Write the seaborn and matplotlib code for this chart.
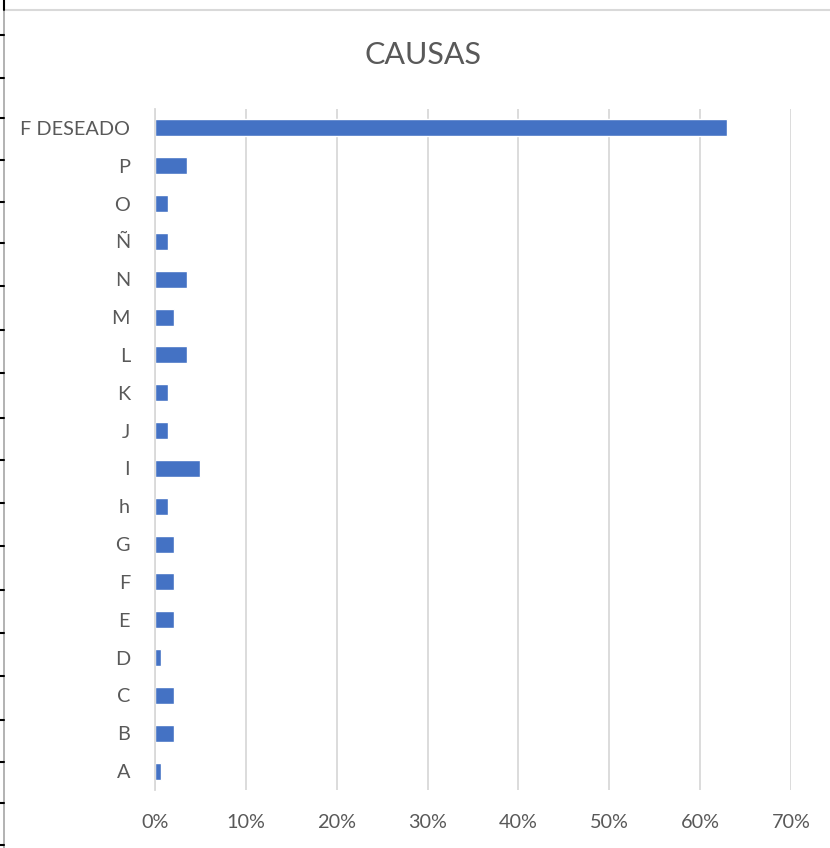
import pandas as pd
import seaborn as sns
import matplotlib.pyplot as plt
from matplotlib.lines import Line2D
from matplotlib.ticker import PercentFormatter

# data (share of total)
causas = ["F DESEADO", "P", "O", "Ñ", "N", "M", "L", "K", "J", "I",
          "h", "G", "F", "E", "D", "C", "B", "A"]
porcentaje = [0.630, 0.035, 0.014, 0.014, 0.035, 0.021, 0.035, 0.014, 0.014, 0.049,
              0.014, 0.021, 0.021, 0.021, 0.007, 0.021, 0.021, 0.007]
x_ticks = [0.0, 0.1, 0.2, 0.3, 0.4, 0.5, 0.6, 0.7]

df = pd.DataFrame({"causa": causas, "pct": porcentaje})

sns.set_style("white")
plt.rcParams['font.family'] = ['Lato', 'DejaVu Sans']

text_grey = "#595959"
grid_grey = "#D9D9D9"
bar_blue = "#4472C4"

W, H = 830, 848
fig = plt.figure(figsize=(W / 100, H / 100), dpi=100)
ax = fig.add_axes([155 / W, 1 - 790 / H, (791 - 155) / W, (790 - 109) / H])

sns.barplot(x="pct", y="causa", data=df, order=causas, color=bar_blue,
            width=0.45, saturation=1, ax=ax)

ax.set_xlim(0, 0.70)
ax.set_xticks(x_ticks)
ax.xaxis.set_major_formatter(PercentFormatter(1.0, decimals=0))
ax.grid(axis="x", color=grid_grey, linewidth=1.3)
ax.set_axisbelow(True)
ax.set_xlabel("")
ax.set_ylabel("")
ax.tick_params(axis="x", length=0, pad=17, labelsize=14.3, labelcolor=text_grey)
ax.tick_params(axis="y", length=0, pad=18, labelsize=14.3, labelcolor=text_grey)
for s in ["top", "right", "bottom"]:
    ax.spines[s].set_visible(False)
ax.spines["left"].set_color(grid_grey)
ax.spines["left"].set_linewidth(1.3)

fig.text(423 / W, 1 - 55 / H, "CAUSAS", ha="center", va="center",
         fontsize=22, color=text_grey)

# spreadsheet edges around the chart
fig.add_artist(Line2D([4 / W, 4 / W], [0, 1], color="#A6A6A6", linewidth=1.2))
fig.add_artist(Line2D([4 / W, 1], [1 - 10 / H, 1 - 10 / H], color="#D9D9D9", linewidth=1.5))
for y in [35, 78, 118, 160, 202, 243, 286, 330, 373, 418, 460, 503, 546, 590,
          633, 676, 720, 762, 803, 845]:
    fig.add_artist(Line2D([0, 4 / W], [1 - y / H, 1 - y / H], color="black", linewidth=1.5))
fig.add_artist(Line2D([4 / W, 4 / W], [1 - 10 / H, 1], color="black", linewidth=1.5))

fig.savefig("out.png", dpi=100)
